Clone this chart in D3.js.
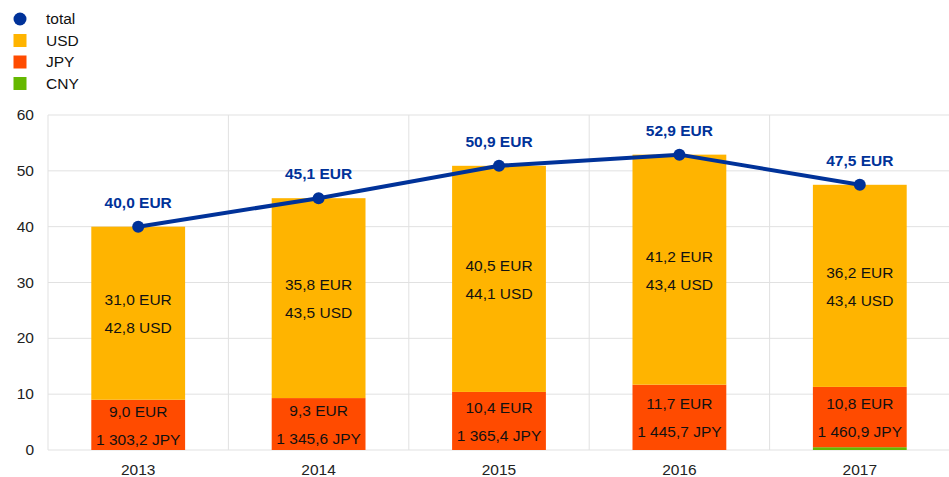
<!DOCTYPE html>
<html>
<head>
<meta charset="utf-8">
<script src="https://cdn.jsdelivr.net/npm/d3@7"></script>
<style>
  body { margin: 0; background: #fff; }
  svg { font-family: "Liberation Sans", Arial, sans-serif; }
</style>
</head>
<body>
<svg id="chart"></svg>
<script>
const width = 949;
const height = 477;

const years = ['2013', '2014', '2015', '2016', '2017'];
const totalEur = [40.0, 45.1, 50.9, 52.9, 47.5];
const usdEur = [31.0, 35.8, 40.5, 41.2, 36.2];
const jpyEur = [9.0, 9.3, 10.4, 11.7, 10.8];
const cnyEur = [0, 0, 0, 0, 0.5];
const usdNative = ['42,8', '43,5', '44,1', '43,4', '43,4'];
const jpyNative = ['1 303,2', '1 345,6', '1 365,4', '1 445,7', '1 460,9'];
const yTicks = [0, 10, 20, 30, 40, 50, 60];

const colors = { total: '#003299', USD: '#FFB400', JPY: '#FF4B00', CNY: '#65B800' };
const fmt = v => v.toFixed(1).replace('.', ',');

const svg = d3.select('#chart').attr('width', width).attr('height', height);

const x = d3.scaleBand().domain(years).range([48, 950]);
const y = d3.scaleLinear().domain([0, 60]).range([450, 115]);
const barW = x.bandwidth() * 0.52;

// grid
svg.append('g').selectAll('line').data(yTicks).enter().append('line')
  .attr('x1', 48).attr('x2', 950)
  .attr('y1', d => y(d)).attr('y2', d => y(d))
  .attr('stroke', '#e1e1e1').attr('stroke-width', 1);

svg.append('g').selectAll('line').data(years).enter().append('line')
  .attr('x1', d => x(d)).attr('x2', d => x(d))
  .attr('y1', y(60)).attr('y2', y(0))
  .attr('stroke', '#e1e1e1').attr('stroke-width', 1);

// y tick labels
svg.append('g').selectAll('text').data(yTicks).enter().append('text')
  .attr('x', 34).attr('y', d => y(d) + 5)
  .attr('text-anchor', 'end').attr('font-size', 15.5).attr('fill', '#222')
  .text(d => d);

// x tick labels
svg.append('g').selectAll('text').data(years).enter().append('text')
  .attr('x', d => x(d) + x.bandwidth() / 2).attr('y', 475)
  .attr('text-anchor', 'middle').attr('font-size', 15.5).attr('fill', '#222')
  .text(d => d);

// stacked bars
const rows = years.map((yr, i) => ({ year: yr, CNY: cnyEur[i], JPY: jpyEur[i], USD: usdEur[i] }));
const stack = d3.stack().keys(['CNY', 'JPY', 'USD'])(rows);

svg.append('g').selectAll('g').data(stack).enter().append('g')
  .attr('fill', s => colors[s.key])
  .selectAll('rect').data(s => s).enter().append('rect')
  .attr('x', d => x(d.data.year) + (x.bandwidth() - barW) / 2)
  .attr('width', barW)
  .attr('y', d => y(d[1]))
  .attr('height', d => y(d[0]) - y(d[1]));

// bar labels
const labels = svg.append('g').attr('font-size', 15.5).attr('fill', '#111').attr('text-anchor', 'middle');
years.forEach((yr, i) => {
  const cx = x(yr) + x.bandwidth() / 2;
  const jMid = y(cnyEur[i] + jpyEur[i] / 2);
  const uMid = y(cnyEur[i] + jpyEur[i] + usdEur[i] / 2);
  labels.append('text').attr('x', cx).attr('y', uMid - 14 + 6).text(fmt(usdEur[i]) + ' EUR');
  labels.append('text').attr('x', cx).attr('y', uMid + 14 + 6).text(usdNative[i] + ' USD');
  labels.append('text').attr('x', cx).attr('y', jMid - 14 + 6).text(fmt(jpyEur[i]) + ' EUR');
  labels.append('text').attr('x', cx).attr('y', jMid + 14 + 6).text(jpyNative[i] + ' JPY');
});

// total line
const line = d3.line()
  .x((d, i) => x(years[i]) + x.bandwidth() / 2)
  .y(d => y(d));

svg.append('path').datum(totalEur)
  .attr('d', line).attr('fill', 'none')
  .attr('stroke', colors.total).attr('stroke-width', 4);

svg.append('g').selectAll('circle').data(totalEur).enter().append('circle')
  .attr('cx', (d, i) => x(years[i]) + x.bandwidth() / 2)
  .attr('cy', d => y(d)).attr('r', 6)
  .attr('fill', colors.total);

svg.append('g').selectAll('text').data(totalEur).enter().append('text')
  .attr('x', (d, i) => x(years[i]) + x.bandwidth() / 2)
  .attr('y', d => y(d) - 19)
  .attr('text-anchor', 'middle').attr('font-size', 15.5).attr('font-weight', 'bold')
  .attr('fill', colors.total)
  .text(d => fmt(d) + ' EUR');

// legend
const legendItems = ['total', 'USD', 'JPY', 'CNY'];
const legend = svg.append('g').selectAll('g').data(legendItems).enter().append('g')
  .attr('transform', (d, i) => `translate(20, ${19 + i * 21.5})`);

legend.each(function(d) {
  const g = d3.select(this);
  if (d === 'total') {
    g.append('circle').attr('r', 6.5).attr('fill', colors.total);
  } else {
    g.append('rect').attr('x', -6.5).attr('y', -6.5).attr('width', 13).attr('height', 13).attr('fill', colors[d]);
  }
  g.append('text').attr('x', 26).attr('y', 5).attr('font-size', 15.5).attr('fill', '#111').text(d);
});
</script>
</body>
</html>
